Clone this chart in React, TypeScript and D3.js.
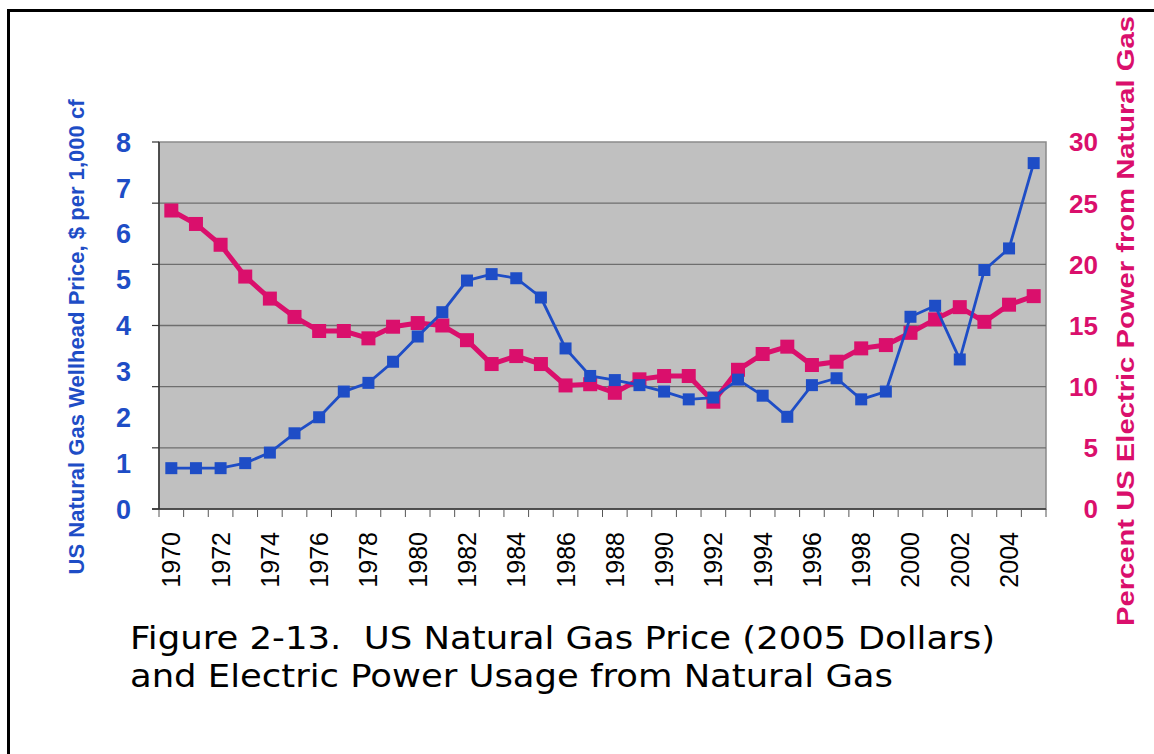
import React from "react";
import * as d3 from "d3";

const years: number[] = d3.range(1970, 2006);
const priceValues: number[] = [
  0.89, 0.89, 0.89, 1.0, 1.23, 1.65, 2.0, 2.56, 2.75, 3.21,
  3.76, 4.29, 4.98, 5.12, 5.03, 4.61, 3.5, 2.9, 2.81, 2.7,
  2.56, 2.39, 2.43, 2.82, 2.47, 2.01, 2.7, 2.85, 2.39, 2.56,
  4.19, 4.43, 3.26, 5.21, 5.68, 7.54,
];
const gasShareValues: number[] = [
  24.4, 23.3, 21.6, 19.0, 17.2, 15.7, 14.55, 14.55, 13.95, 14.9,
  15.2, 15.0, 13.8, 11.85, 12.5, 11.85, 10.1, 10.2, 9.5, 10.6,
  10.87, 10.87, 8.77, 11.38, 12.67, 13.27, 11.77, 12.04, 13.13, 13.4,
  14.4, 15.5, 16.5, 15.3, 16.7, 17.4,
];
const leftTicks: number[] = [0, 1, 2, 3, 4, 5, 6, 7, 8];
const rightTicks: number[] = [0, 5, 10, 15, 20, 25, 30];
const leftTitle = "US Natural Gas Wellhead Price, $ per 1,000 cf";
const rightTitle = "Percent US Electric Power from Natural Gas";
const captionLines: string[] = [
  "Figure 2-13.  US Natural Gas Price (2005 Dollars)",
  "and Electric Power Usage from Natural Gas",
];
const captionWidths: number[] = [865, 763];

const BLUE = "#1E4DC6";
const MAGENTA = "#DA0F6C";

export default function App() {
  const left = 159, right = 1046, top = 142, bottom = 509;
  const x = d3.scaleBand<number>().domain(years).range([left, right]);
  const yL = d3.scaleLinear().domain([0, 8]).range([bottom, top]);
  const yR = d3.scaleLinear().domain([0, 30]).range([bottom, top]);
  const cx = (y: number) => (x(y) as number) + x.bandwidth() / 2;

  const priceLine = d3.line<number>().x((_, i) => cx(years[i])).y((d) => yL(d));
  const shareLine = d3.line<number>().x((_, i) => cx(years[i])).y((d) => yR(d));

  const bs = 12, ms = 14;
  const font = "'Liberation Sans', Arial, sans-serif";

  return (
    <svg
      width={1154}
      height={754}
      style={{ position: "absolute", left: 0, top: 0, background: "#fff" }}
    >
      <rect x={0} y={0} width={1154} height={754} fill="#fff" />
      <rect x={8.5} y={10.5} width={1300} height={900} fill="none" stroke="#000" strokeWidth={3} />

      {/* plot background */}
      <rect x={left} y={top} width={right - left} height={bottom - top} fill="#C0C0C0" stroke="#8a8a8a" strokeWidth={1.5} />
      {rightTicks.slice(1, -1).map((t) => (
        <line key={t} x1={left} x2={right} y1={yR(t)} y2={yR(t)} stroke="#6e6e6e" strokeWidth={1.3} />
      ))}

      {/* axes */}
      <line x1={left} x2={left} y1={top} y2={bottom + 1} stroke="#333" strokeWidth={1.5} />
      <line x1={left - 7} x2={right} y1={bottom} y2={bottom} stroke="#333" strokeWidth={1.5} />
      {rightTicks.map((t) => (
        <line key={t} x1={left - 7} x2={left} y1={yR(t)} y2={yR(t)} stroke="#333" strokeWidth={1.2} />
      ))}
      {years.map((yr) => (
        <line key={yr} x1={x(yr) as number} x2={x(yr) as number} y1={bottom} y2={bottom + 8} stroke="#555" strokeWidth={1} />
      ))}
      <line x1={right} x2={right} y1={bottom} y2={bottom + 8} stroke="#555" strokeWidth={1} />

      {/* left labels */}
      {leftTicks.map((t) => (
        <text key={t} x={131} y={yL(t)} dy="0.36em" textAnchor="end" fill={BLUE}
          fontFamily={font} fontWeight="bold" fontSize={27}>{t}</text>
      ))}
      {/* right labels */}
      {rightTicks.map((t) => (
        <text key={t} x={1098} y={yR(t)} dy="0.36em" textAnchor="end" fill={MAGENTA}
          fontFamily={font} fontWeight="bold" fontSize={26}>{t}</text>
      ))}
      {/* x labels */}
      {years.filter((yr) => (yr - 1970) % 2 === 0).map((yr) => (
        <text key={yr} transform={`translate(${cx(yr) + 9},532) rotate(-90)`} textAnchor="end"
          fill="#000" fontFamily={font} fontSize={25}>{yr}</text>
      ))}

      {/* axis titles */}
      <text transform="translate(84,337) rotate(-90)" textAnchor="middle" fill={BLUE}
        fontFamily={font} fontWeight="bold" fontSize={22} textLength={475} lengthAdjust="spacingAndGlyphs">{leftTitle}</text>
      <text transform="translate(1134,321) rotate(-90)" textAnchor="middle" fill={MAGENTA}
        fontFamily={font} fontWeight="bold" fontSize={24} textLength={610} lengthAdjust="spacingAndGlyphs">{rightTitle}</text>

      {/* magenta series */}
      <path d={shareLine(gasShareValues) || ""} fill="none" stroke={MAGENTA} strokeWidth={5} />
      {gasShareValues.map((v, i) => (
        <rect key={i} x={cx(years[i]) - ms / 2} y={yR(v) - ms / 2} width={ms} height={ms} fill={MAGENTA} />
      ))}

      {/* blue series */}
      <path d={priceLine(priceValues) || ""} fill="none" stroke={BLUE} strokeWidth={2.8} />
      {priceValues.map((v, i) => (
        <rect key={i} x={cx(years[i]) - bs / 2} y={yL(v) - bs / 2} width={bs} height={bs} fill={BLUE} />
      ))}

      {/* caption */}
      {captionLines.map((ln, i) => (
        <text key={i} x={130} y={649 + i * 38} fill="#000" style={{ whiteSpace: "pre" }}
          fontFamily="'DejaVu Sans', Verdana, sans-serif" fontSize={32}
          textLength={captionWidths[i]} lengthAdjust="spacingAndGlyphs">{ln}</text>
      ))}
    </svg>
  );
}
